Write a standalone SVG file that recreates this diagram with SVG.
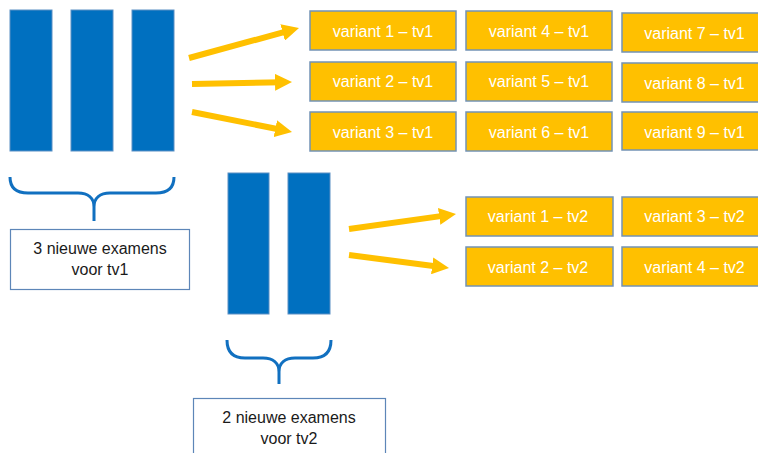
<svg xmlns="http://www.w3.org/2000/svg" width="758" height="453" viewBox="0 0 758 453">
<style>
.bar{fill:#0070C0;stroke:#5b8fc4;stroke-width:1}
.var{fill:#FFC000;stroke:#7393b5;stroke-width:1.5}
.vt{font-family:"Liberation Sans",Arial,sans-serif;font-size:16px;fill:#ffffff;text-anchor:middle}
.lbl{fill:#ffffff;stroke:#5d86b8;stroke-width:1.2}
.lt{font-family:"Liberation Sans",Arial,sans-serif;font-size:16px;fill:#1a1a1a;text-anchor:middle}
.brace{fill:none;stroke:#1170c0;stroke-width:3}
.arr{stroke:#FFC000;stroke-width:6;fill:none;marker-end:url(#ah)}
</style>
<defs>
<marker id="ah" markerUnits="userSpaceOnUse" viewBox="0 0 17 17" refX="7" refY="8.5" markerWidth="17" markerHeight="17" orient="auto">
<path d="M0,0 L17,8.5 L0,17 Z" fill="#FFC000"/>
</marker>
</defs>
<rect width="758" height="453" fill="#ffffff"/>
<g id="exams-tv1">
<rect class="bar" x="10" y="10" width="42" height="141"/>
<rect class="bar" x="71" y="10" width="42" height="141"/>
<rect class="bar" x="132" y="10" width="42" height="141"/>
</g>
<g id="exams-tv2">
<rect class="bar" x="228" y="173" width="41" height="141"/>
<rect class="bar" x="288" y="173" width="42" height="141"/>
</g>
<g id="connectors">
<line class="arr" x1="189" y1="58" x2="289.35" y2="30.63"/>
<line class="arr" x1="192" y1="84" x2="282" y2="82.2"/>
<line class="arr" x1="192" y1="112" x2="282.2" y2="130.04"/>
<line class="arr" x1="349" y1="229" x2="446.1" y2="215.39"/>
<line class="arr" x1="349" y1="255" x2="439.08" y2="266.71"/>
</g>
<g id="brace1">
<path class="brace" d="M10,177 C10,188 16,193 28,193 L78,193 C88,193 94,198 94,207 L94,221 M94,207 C94,198 100,193 110,193 L156,193 C168,193 174,188 174,177"/>
</g>
<g id="label-tv1">
<rect class="lbl" x="10.5" y="229.5" width="179" height="60"/>
<text class="lt" x="100" y="254">3 nieuwe examens</text>
<text class="lt" x="100" y="275">voor tv1</text>
</g>
<g id="brace2">
<path class="brace" d="M227,340 C227,352 233,358 245,358 L263,358 C273,358 279,363 279,372 L279,384 M279,372 C279,363 285,358 295,358 L313,358 C325,358 331,352 331,340"/>
</g>
<g id="label-tv2">
<rect class="lbl" x="193.5" y="398.5" width="192" height="60"/>
<text class="lt" x="289" y="423">2 nieuwe examens</text>
<text class="lt" x="289" y="444">voor tv2</text>
</g>
<g id="v1-tv1"><rect class="var" x="310" y="11" width="146" height="39"/><text class="vt" x="383" y="37">variant 1 – tv1</text></g>
<g id="v2-tv1"><rect class="var" x="310" y="62" width="146" height="39"/><text class="vt" x="383" y="87">variant 2 – tv1</text></g>
<g id="v3-tv1"><rect class="var" x="310" y="112" width="146" height="39"/><text class="vt" x="383" y="137.5">variant 3 – tv1</text></g>
<g id="v4-tv1"><rect class="var" x="466" y="11" width="146" height="39"/><text class="vt" x="539" y="37">variant 4 – tv1</text></g>
<g id="v5-tv1"><rect class="var" x="466" y="62" width="146" height="39"/><text class="vt" x="539" y="87">variant 5 – tv1</text></g>
<g id="v6-tv1"><rect class="var" x="466" y="112" width="146" height="39"/><text class="vt" x="539" y="137.5">variant 6 – tv1</text></g>
<g id="v7-tv1"><rect class="var" x="622" y="13" width="146" height="39"/><text class="vt" x="694.5" y="39">variant 7 – tv1</text></g>
<g id="v8-tv1"><rect class="var" x="622" y="63" width="146" height="39"/><text class="vt" x="694.5" y="88.5">variant 8 – tv1</text></g>
<g id="v9-tv1"><rect class="var" x="622" y="112" width="146" height="38"/><text class="vt" x="694.5" y="137.5">variant 9 – tv1</text></g>
<g id="v1-tv2"><rect class="var" x="466" y="197" width="147" height="39"/><text class="vt" x="538" y="222">variant 1 – tv2</text></g>
<g id="v2-tv2"><rect class="var" x="466" y="247" width="147" height="39"/><text class="vt" x="538" y="272.5">variant 2 – tv2</text></g>
<g id="v3-tv2"><rect class="var" x="622" y="197" width="146" height="39"/><text class="vt" x="694.5" y="222">variant 3 – tv2</text></g>
<g id="v4-tv2"><rect class="var" x="622" y="247" width="146" height="39"/><text class="vt" x="694.5" y="272.5">variant 4 – tv2</text></g>
</svg>
